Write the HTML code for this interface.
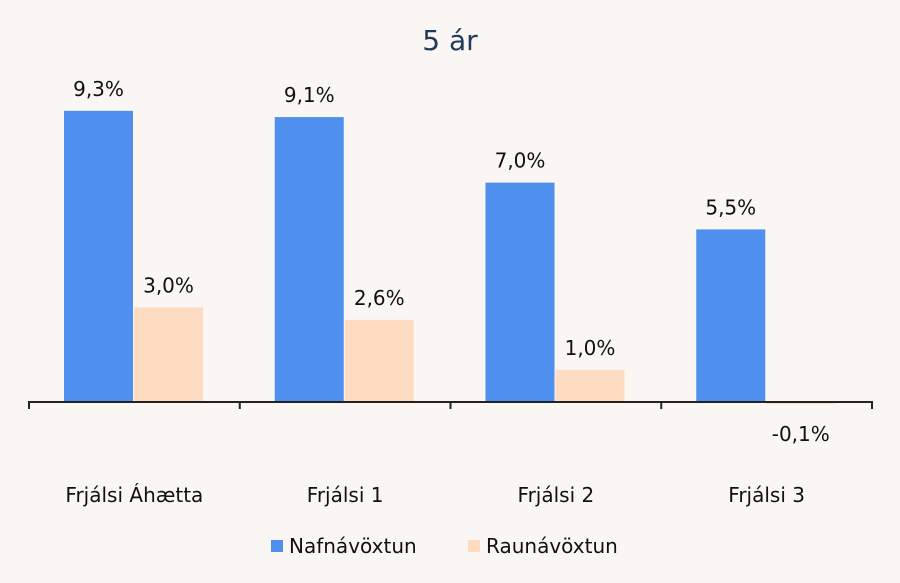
<!DOCTYPE html>
<html><head><meta charset="utf-8"><style>
body{margin:0;background:#faf6f3}
svg{display:block;font-family:"DejaVu Sans","Liberation Sans",sans-serif}
</style></head><body>
<svg id="c" width="900" height="583">
<rect width="900" height="583" fill="#faf6f3"/>
<text x="450" y="50" text-anchor="middle" font-size="28" fill="#1f3b5a">5 ár</text>
<g id="bars"></g>
<g>
<rect x="271" y="540" width="12" height="12" fill="#4f8fee"/>
<text x="289" y="553" font-size="20" fill="#111">Nafnávöxtun</text>
<rect x="468" y="540" width="12" height="12" fill="#fddcc2"/>
<text x="486" y="553" font-size="20" fill="#111">Raunávöxtun</text>
</g>
</svg>
<script>
const categories=["Frjálsi Áhætta","Frjálsi 1","Frjálsi 2","Frjálsi 3"];
const nafn=[9.3,9.1,7.0,5.5];
const raun=[3.0,2.6,1.0,-0.1];
const ns="http://www.w3.org/2000/svg";
const g=document.getElementById('bars');
const x0=29,x1=872,base=401,ppu=31.2;
const gw=(x1-x0)/categories.length;
const y=v=>base-v*ppu;
function mk(t,a){const e=document.createElementNS(ns,t);for(const k in a)e.setAttribute(k,a[k]);g.appendChild(e);return e;}
const fmt=v=>v.toFixed(1).replace('.',',')+'%';
categories.forEach((c,i)=>{
  const gx=x0+i*gw;
  [[nafn[i],'#4f8fee',35,'bar-nafn'],[raun[i],'#fddcc2',105,'bar-raun']].forEach(([v,col,off,nm])=>{
    const top=Math.min(y(v),base),h=Math.max(Math.abs(y(v)-base),1);
    const r=mk('rect',{x:gx+off,y:top,width:69,height:h,fill:col});
    
    
    const ly=v>=0?top-15:base+40;
    const t=mk('text',{x:gx+off+34.5,y:ly,'text-anchor':'middle','font-size':20,fill:'#111'});
    t.textContent=fmt(v);
    
    
  });
  const cl=mk('text',{x:gx+gw/2,y:502,'text-anchor':'middle','font-size':20,fill:'#111'});
  cl.textContent=c;
  
  
});
const ax=mk('line',{x1:x0,x2:x1,y1:base+1,y2:base+1,stroke:'#222','stroke-width':2});


for(let i=0;i<=categories.length;i++){
  const tk=mk('line',{x1:x0+i*gw,x2:x0+i*gw,y1:base,y2:base+8,stroke:'#222','stroke-width':2});
  
  
}
</script>
</body></html>
